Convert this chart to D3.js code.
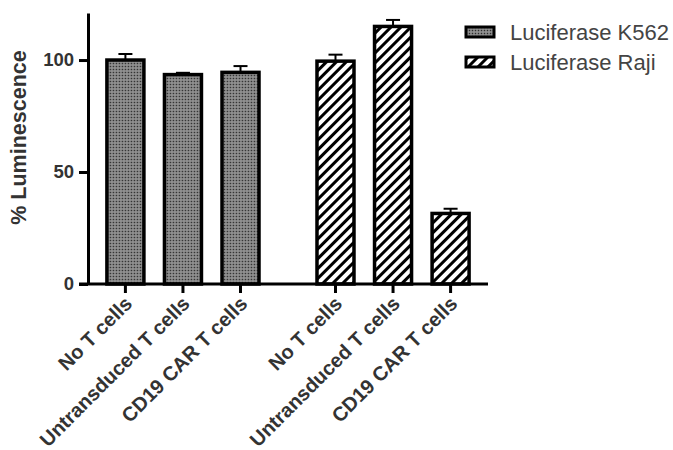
<!DOCTYPE html>
<html>
<head>
<meta charset="utf-8">
<script src="https://cdn.jsdelivr.net/npm/d3@7"></script>
<style>
  body { margin: 0; background: #fff; }
  svg { display: block; font-family: "Liberation Sans", Arial, sans-serif; }
</style>
</head>
<body>
<svg width="673" height="450"></svg>
<script>
;(function(){

    // data
    var groups     = ["Luciferase K562", "Luciferase Raji"];
    var conditions = ["No T cells", "Untransduced T cells", "CD19 CAR T cells"];
    var k562Values = [100, 93.5, 94.5];
    var k562Errors = [2.7, 0.8, 2.8];
    var rajiValues = [99.5, 115, 31.5];
    var rajiErrors = [2.9, 2.9, 2.1];
    var yTicks     = [0, 50, 100];
    var yLabel     = "% Luminescence";

    var series = [
        {name: groups[0], values: k562Values, errors: k562Errors, fill: "url(#checker)"},
        {name: groups[1], values: rajiValues, errors: rajiErrors, fill: "url(#hatch)"}
    ];

    var svg = d3.select("svg");
    var left = 88, right = 488, top = 13, bottom = 284;

    var defs = svg.append("defs");

    var checker = defs.append("pattern")
        .attr("id", "checker")
        .attr("patternUnits", "userSpaceOnUse")
        .attr("width", 3).attr("height", 3);
    checker.append("rect").attr("width", 3).attr("height", 3).attr("fill", "#7c7c7c");
    checker.append("rect").attr("width", 1).attr("height", 1).attr("fill", "#2e2e2e");
    checker.append("rect").attr("x", 1.5).attr("y", 1.5).attr("width", 1).attr("height", 1).attr("fill", "#c8c8c8");

    var hatch = defs.append("pattern")
        .attr("id", "hatch")
        .attr("patternUnits", "userSpaceOnUse")
        .attr("width", 7).attr("height", 7)
        .attr("patternTransform", "rotate(45)");
    hatch.append("rect").attr("width", 7).attr("height", 7).attr("fill", "#fff");
    hatch.append("rect").attr("width", 3).attr("height", 7).attr("fill", "#000");

    // scales
    var y = d3.scaleLinear().domain([0, 121]).range([bottom, top]);

    var xGroup = d3.scaleBand()
        .domain(groups)
        .range([left, right])
        .paddingInner(0.276)
        .paddingOuter(0.09);

    var xCond = d3.scaleBand()
        .domain(conditions)
        .range([0, xGroup.bandwidth()])
        .paddingInner(0.357)
        .paddingOuter(0);

    // bars
    series.forEach(function(s){
        var g = svg.append("g").attr("class", "series")
            .attr("transform", "translate(" + xGroup(s.name) + ",0)");

        g.selectAll("line.err")
            .data(conditions)
            .enter().append("line")
            .attr("class", "err")
            .attr("x1", function(d){ return xCond(d) + xCond.bandwidth() / 2; })
            .attr("x2", function(d){ return xCond(d) + xCond.bandwidth() / 2; })
            .attr("y1", function(d, i){ return y(s.values[i]); })
            .attr("y2", function(d, i){ return y(s.values[i] + s.errors[i]); })
            .attr("stroke", "#000").attr("stroke-width", 2);

        g.selectAll("line.cap")
            .data(conditions)
            .enter().append("line")
            .attr("class", "cap")
            .attr("x1", function(d){ return xCond(d) + xCond.bandwidth() / 2 - 7; })
            .attr("x2", function(d){ return xCond(d) + xCond.bandwidth() / 2 + 7; })
            .attr("y1", function(d, i){ return y(s.values[i] + s.errors[i]); })
            .attr("y2", function(d, i){ return y(s.values[i] + s.errors[i]); })
            .attr("stroke", "#000").attr("stroke-width", 2);

        g.selectAll("rect.bar")
            .data(conditions)
            .enter().append("rect")
            .attr("class", "bar")
            .attr("x", function(d){ return xCond(d); })
            .attr("width", xCond.bandwidth())
            .attr("y", function(d, i){ return y(s.values[i]); })
            .attr("height", function(d, i){ return y(0) - y(s.values[i]); })
            .attr("fill", s.fill)
            .attr("stroke", "#000")
            .attr("stroke-width", 3.5);

        // x ticks + rotated labels
        g.selectAll("line.xtick")
            .data(conditions)
            .enter().append("line")
            .attr("class", "xtick")
            .attr("x1", function(d){ return xCond(d) + xCond.bandwidth() / 2; })
            .attr("x2", function(d){ return xCond(d) + xCond.bandwidth() / 2; })
            .attr("y1", bottom).attr("y2", bottom + 9)
            .attr("stroke", "#000").attr("stroke-width", 3);

        g.selectAll("text.xlab")
            .data(conditions)
            .enter().append("text")
            .attr("class", "xlab")
            .attr("transform", function(d){
                return "translate(" + (xCond(d) + xCond.bandwidth() / 2 + 8) + "," + (bottom + 21) + ") rotate(-45)";
            })
            .attr("text-anchor", "end")
            .attr("font-size", 20)
            .attr("font-weight", "bold")
            .attr("fill", "#333")
            .text(function(d){ return d; });
    });

    // y axis
    var yAxis = d3.axisLeft(y)
        .tickValues(yTicks)
        .tickSize(9)
        .tickSizeOuter(0)
        .tickPadding(5);

    var ya = svg.append("g")
        .attr("class", "axis axis-y")
        .attr("transform", "translate(" + left + ",0)")
        .call(yAxis);
    ya.select(".domain").attr("stroke", "#000").attr("stroke-width", 3);
    ya.selectAll(".tick line").attr("stroke", "#000").attr("stroke-width", 3);
    ya.selectAll(".tick text")
        .attr("font-size", 18.5)
        .attr("font-weight", "bold")
        .attr("fill", "#333")
        .attr("font-family", "Liberation Sans, Arial, sans-serif");

    // x axis baseline
    svg.append("line")
        .attr("x1", left - 9).attr("x2", right)
        .attr("y1", y(0)).attr("y2", y(0))
        .attr("stroke", "#000").attr("stroke-width", 3);

    // y label
    svg.append("text")
        .attr("transform", "translate(26," + ((top + bottom) / 2 - 11) + ") rotate(-90)")
        .attr("text-anchor", "middle")
        .attr("font-size", 21.5)
        .attr("font-weight", "bold")
        .attr("fill", "#333")
        .text(yLabel);

    // legend
    var legend = svg.selectAll(".legend")
        .data(series)
        .enter().append("g")
        .attr("class", "legend")
        .attr("transform", function(d, i){ return "translate(466," + (27 + i * 30) + ")"; });

    legend.append("rect")
        .attr("width", 28).attr("height", 10)
        .attr("fill", function(d){ return d.fill; })
        .attr("stroke", "#000").attr("stroke-width", 3);

    legend.append("text")
        .attr("x", 44).attr("y", 13)
        .attr("font-size", 22)
        .attr("fill", "#444")
        .text(function(d){ return d.name; });

}());
</script>
</body>
</html>
